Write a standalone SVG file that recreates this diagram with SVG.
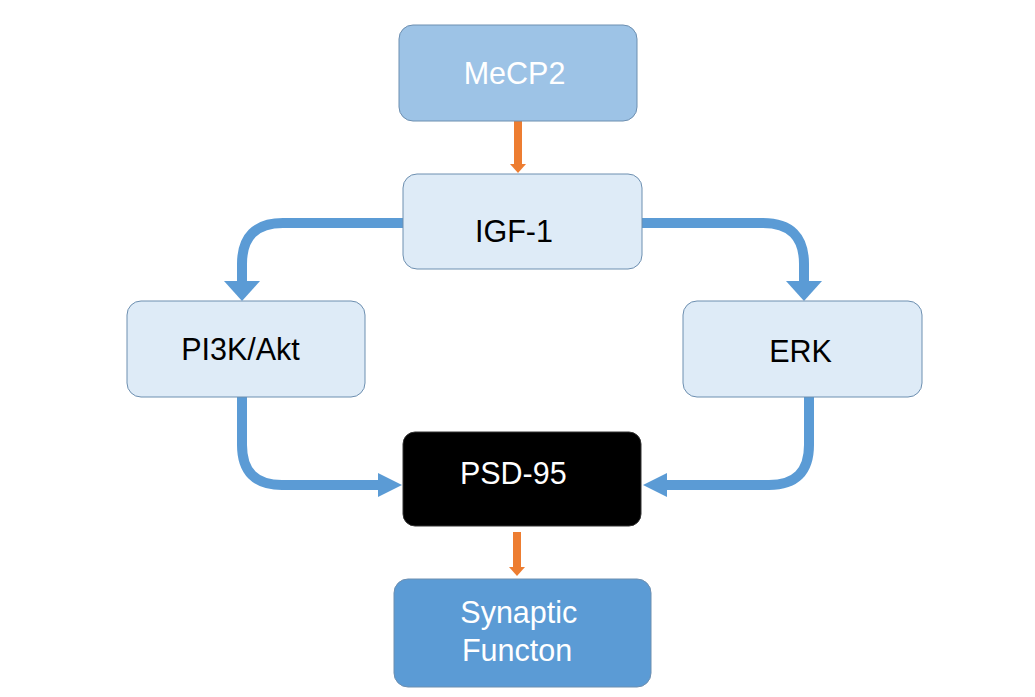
<svg xmlns="http://www.w3.org/2000/svg" width="1035" height="697" viewBox="0 0 1035 697">
<style>
.box{stroke:#6d8fb0;stroke-width:1}
.lbl{font-family:"Liberation Sans",Arial,sans-serif;font-size:30.5px;text-anchor:middle}
.conn{fill:none;stroke:#5b9bd5;stroke-width:10}
.head{fill:#5b9bd5}
.or{fill:none;stroke:#ed7d31;stroke-width:8}
.orh{fill:#ed7d31}
</style>
<rect width="1035" height="697" fill="#ffffff"/>
<g id="connectors">
  <line class="or" x1="518" y1="121" x2="518" y2="165"/>
  <polygon class="orh" points="510,164 526,164 518,173"/>
  <line class="or" x1="517" y1="532" x2="517" y2="568"/>
  <polygon class="orh" points="509,567 525,567 517,576"/>
  <path class="conn" d="M403,223 H283 Q242,223 242,264 V282"/>
  <polygon class="head" points="224,281 260,281 242,301"/>
  <path class="conn" d="M642,223 H763 Q804,223 804,264 V282"/>
  <polygon class="head" points="786,281 822,281 804,301"/>
  <path class="conn" d="M242,397 V445 Q242,485 282,485 H380"/>
  <polygon class="head" points="378,473 378,497 402,485"/>
  <path class="conn" d="M809,397 V445 Q809,485 769,485 H665"/>
  <polygon class="head" points="667,473 667,497 643,485"/>
</g>
<g id="node-mecp2">
  <rect class="box" x="399" y="25" width="238" height="96" rx="14" fill="#9dc3e6"/>
  <text class="lbl" x="514.5" y="84" fill="#ffffff">MeCP2</text>
</g>
<g id="node-igf1">
  <rect class="box" x="403" y="174" width="239" height="95" rx="14" fill="#deebf7"/>
  <text class="lbl" x="514" y="242" fill="#000000">IGF-1</text>
</g>
<g id="node-pi3k">
  <rect class="box" x="127" y="301" width="238" height="96" rx="14" fill="#deebf7"/>
  <text class="lbl" x="240.5" y="360" fill="#000000">PI3K/Akt</text>
</g>
<g id="node-erk">
  <rect class="box" x="683" y="301" width="239" height="96" rx="14" fill="#deebf7"/>
  <text class="lbl" x="800.5" y="362" fill="#000000">ERK</text>
</g>
<g id="node-psd95">
  <rect x="403" y="432" width="238" height="94" rx="12" fill="#000000" stroke="#333333" stroke-width="1"/>
  <text class="lbl" x="513.3" y="484" fill="#ffffff">PSD-95</text>
</g>
<g id="node-synaptic">
  <rect class="box" x="394" y="579" width="257" height="108" rx="14" fill="#5b9bd5"/>
  <text class="lbl" x="518.8" y="623" fill="#ffffff">Synaptic</text>
  <text class="lbl" x="517" y="661" fill="#ffffff">Functon</text>
</g>
</svg>
